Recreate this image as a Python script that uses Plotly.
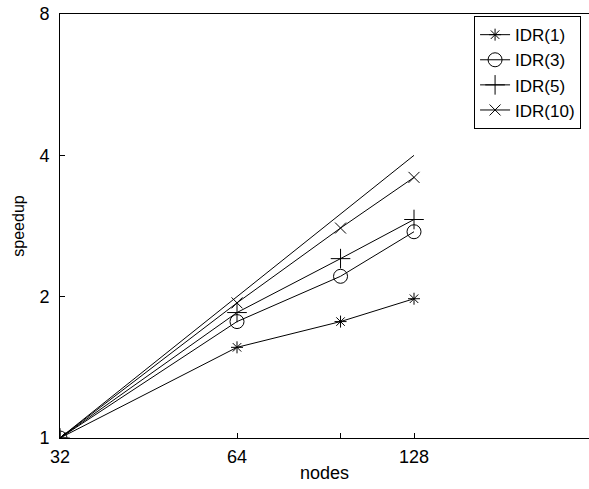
import math
import plotly.graph_objects as go

nodes = [32, 64, 96, 128]
idr1 = [1.0, 1.56, 1.77, 1.98]
idr3 = [1.0, 1.77, 2.21, 2.75]
idr5 = [1.0, 1.85, 2.41, 2.92]
idr10 = [1.0, 1.94, 2.80, 3.59]
ideal_x = [32, 128]
ideal_y = [1, 4]

series = [
    ("IDR(1)", idr1, "asterisk-open", 10),
    ("IDR(3)", idr3, "circle-open", 14),
    ("IDR(5)", idr5, "cross-thin-open", 14),
    ("IDR(10)", idr10, "x-thin-open", 11),
]

fig = go.Figure()
fig.add_trace(go.Scatter(x=ideal_x, y=ideal_y, mode="lines",
                         line=dict(color="black", width=1), showlegend=False))
for name, vals, sym, size in series:
    fig.add_trace(go.Scatter(
        x=nodes, y=vals, mode="lines+markers", name=name,
        line=dict(color="black", width=1),
        marker=dict(symbol=sym, size=size, color="black",
                    line=dict(color="black", width=1)),
    ))

W, H = 589, 489
L, R, T, B = 60, 0, 14, 51
px_per_oct = 177.0
xmax_log2 = 5 + (W - L - R) / px_per_oct

fig.update_layout(
    width=W, height=H,
    margin=dict(l=L, r=R, t=T, b=B),
    paper_bgcolor="white", plot_bgcolor="white",
    font=dict(family="Liberation Sans, Arial, sans-serif", size=18, color="black"),
    legend=dict(x=0.985, y=0.995, xanchor="right", yanchor="top",
                bordercolor="black", borderwidth=1, bgcolor="white",
                font=dict(size=17), tracegroupgap=0, itemwidth=30),
    xaxis=dict(
        type="log", range=[math.log10(32), xmax_log2 * math.log10(2)],
        tickvals=[32, 64, 96, 128], ticktext=["32", "64", "", "128"],
        ticks="inside", ticklen=5, tickcolor="black",
        ticklabelstandoff=2,
        tickfont=dict(size=18),
        showline=True, linecolor="black", linewidth=1, mirror=True,
        showgrid=False, zeroline=False,
        title=dict(text="nodes", font=dict(size=18), standoff=0),
    ),
    yaxis=dict(
        type="log", range=[0, math.log10(8)],
        tickvals=[1, 2, 4, 8], ticktext=["1", "2", "4", "8"],
        ticks="inside", ticklen=5, tickcolor="black",
        ticklabelstandoff=6,
        tickfont=dict(size=18),
        showline=True, linecolor="black", linewidth=1, mirror=False,
        showgrid=False, zeroline=False,
        title=dict(text="speedup", font=dict(size=16), standoff=10),
    ),
)

fig.write_html("out.html")
